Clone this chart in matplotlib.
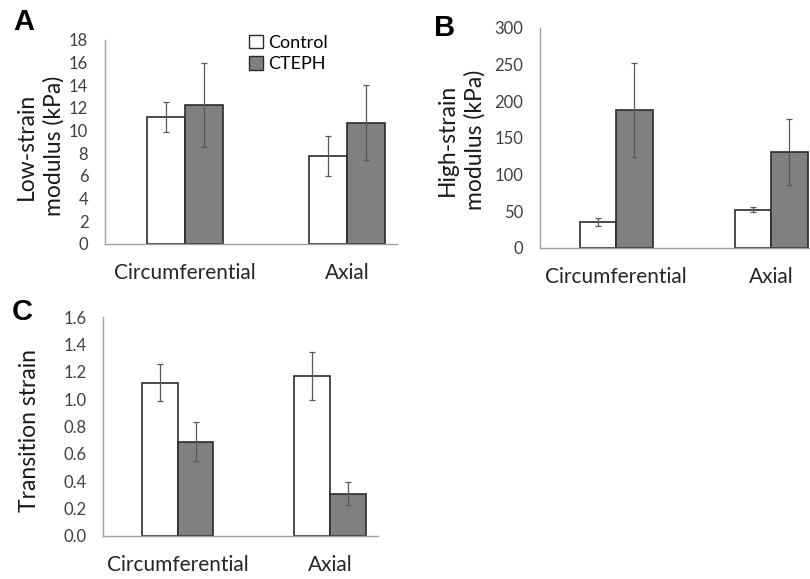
"""Three-panel grouped bar chart: Control vs CTEPH mechanical properties."""

import matplotlib

matplotlib.use("Agg")
import matplotlib.pyplot as plt  # noqa: E402
import numpy as np  # noqa: E402
from matplotlib.patches import Patch  # noqa: E402

categories = ["Circumferential", "Axial"]
groups = ["Control", "CTEPH"]

low_strain_control = [11.2, 7.75]
low_strain_control_err = [1.3, 1.75]
low_strain_cteph = [12.3, 10.7]
low_strain_cteph_err = [3.7, 3.3]

high_strain_control = [35.5, 52.5]
high_strain_control_err = [5.5, 3.5]
high_strain_cteph = [188.0, 130.5]
high_strain_cteph_err = [64.0, 45.0]

transition_control = [1.12, 1.17]
transition_control_err = [0.135, 0.175]
transition_cteph = [0.69, 0.31]
transition_cteph_err = [0.14, 0.085]

W, H = 810, 579
FONT = "Lato"
TICK_COLOR = "#404040"
SPINE_COLOR = "#a0a0a0"
CTEPH_FILL = "#808080"
EDGE = "#2b2b2b"
BAR_W = 0.235


def px_axes(fig, left, top, right, bottom):
    return fig.add_axes([left / W, 1 - bottom / H, (right - left) / W, (bottom - top) / H])


def draw_panel(ax, control, control_err, cteph, cteph_err, ylim, yticks, fmt, xlim, ylabel, label_xy):
    x = np.arange(len(categories))
    err_kw = dict(ecolor="#595959", elinewidth=0.9, capsize=2, capthick=0.9)
    ax.bar(x - BAR_W / 2, control, BAR_W, yerr=control_err, color="white",
           edgecolor=EDGE, linewidth=1.2, error_kw=err_kw, zorder=2)
    ax.bar(x + BAR_W / 2, cteph, BAR_W, yerr=cteph_err, color=CTEPH_FILL,
           edgecolor=EDGE, linewidth=1.2, error_kw=err_kw, zorder=2)
    ax.set_xlim(*xlim)
    ax.set_ylim(*ylim)
    ax.set_yticks(yticks)
    ax.set_yticklabels([fmt.format(v) for v in yticks], fontsize=12, color=TICK_COLOR, family=FONT)
    ax.set_xticks(x)
    ax.set_xticklabels(categories, fontsize=15, color="#262626", family=FONT)
    ax.tick_params(axis="y", length=0, pad=12)
    ax.tick_params(axis="x", length=0, pad=14)
    for side in ("top", "right"):
        ax.spines[side].set_visible(False)
    for side in ("left", "bottom"):
        ax.spines[side].set_color(SPINE_COLOR)
        ax.spines[side].set_linewidth(1.0)
    ax.spines["bottom"].set_zorder(3)
    ax.set_ylabel(ylabel, fontsize=16.5, family=FONT, color="#1a1a1a", linespacing=1.35)
    ax.yaxis.set_label_coords(*label_xy)


def main():
    fig = plt.figure(figsize=(W / 100, H / 100), dpi=100)

    ax_a = px_axes(fig, 105, 40, 397, 244)
    draw_panel(ax_a, low_strain_control, low_strain_control_err, low_strain_cteph, low_strain_cteph_err,
               (0, 18), np.arange(0, 19, 2), "{:.0f}", (-0.494, 1.31),
               "Low-strain\nmodulus (kPa)", (-0.14, 0.48))

    ax_b = px_axes(fig, 540, 28, 810, 248)
    draw_panel(ax_b, high_strain_control, high_strain_control_err, high_strain_cteph, high_strain_cteph_err,
               (0, 300), np.arange(0, 301, 50), "{:.0f}", (-0.49, 1.25),
               "High-strain\nmodulus (kPa)", (-0.20, 0.49))

    ax_c = px_axes(fig, 103, 317, 378, 536)
    draw_panel(ax_c, transition_control, transition_control_err, transition_cteph, transition_cteph_err,
               (0, 1.6), np.round(np.arange(0, 1.61, 0.2), 1), "{:.1f}", (-0.49, 1.316),
               "Transition strain", (-0.229, 0.48))

    handles = [Patch(facecolor="white", edgecolor=EDGE, linewidth=1.0),
               Patch(facecolor=CTEPH_FILL, edgecolor=EDGE, linewidth=1.0)]
    ax_a.legend(handles, groups, loc="upper left", bbox_to_anchor=(0.47, 1.06), frameon=False,
                prop={"family": FONT, "size": 13}, handlelength=0.75, handleheight=0.75,
                handletextpad=0.3, labelspacing=0.3, borderaxespad=0)

    for letter, x, y in (("A", 13, 8), ("B", 434, 14), ("C", 12, 298)):
        fig.text(x / W, 1 - y / H, letter, fontsize=21, fontweight="bold", va="top",
                 family="Liberation Sans")

    fig.savefig("out.png", dpi=100)


if __name__ == "__main__":
    main()
